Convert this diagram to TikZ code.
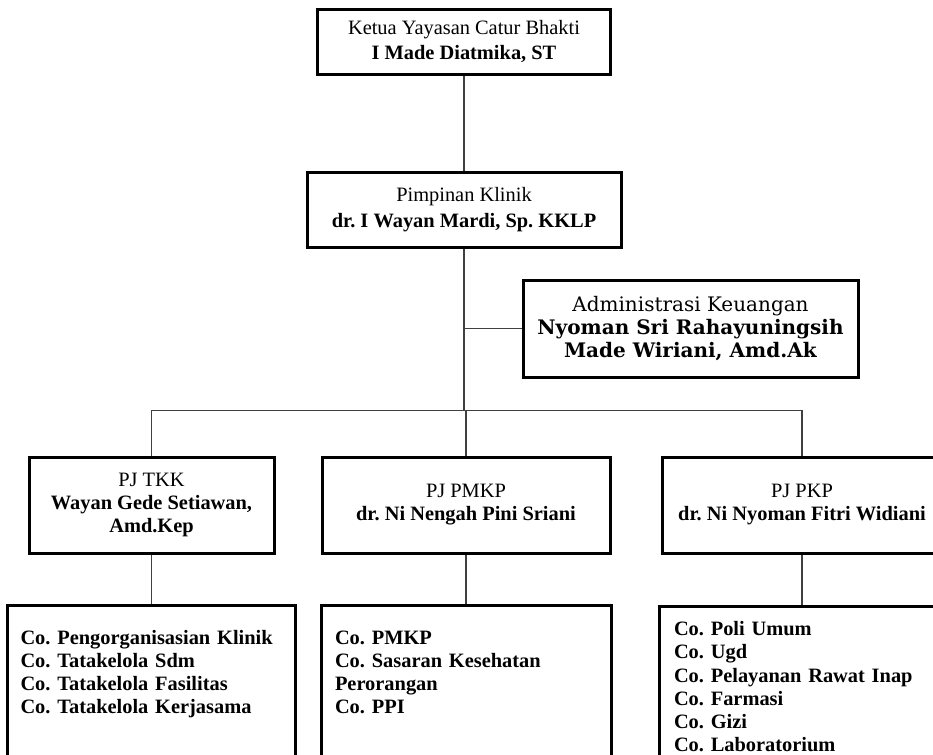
\documentclass[tikz,border=0pt]{standalone}
\usepackage{fontspec}
\setmainfont{Liberation Serif}
\newfontfamily\adminfont{DejaVu Serif}
\usetikzlibrary{positioning}
\frenchspacing
\tikzset{
  link/.style={draw=black!75,line width=0.6pt},
  headbox/.style={draw,line width=1.5pt,align=center,inner sep=2pt,
    font=\fontsize{10.2}{13}\selectfont},
  pjbox/.style={draw,line width=1.5pt,align=center,inner sep=2pt,
    minimum height=48pt,font=\fontsize{10.2}{11.5}\selectfont},
  cobox/.style={draw,line width=1.5pt,align=left,text width=131pt,
    inner xsep=6.5pt,inner ysep=12.8pt,text height=6.8pt,text depth=90pt,
    font=\fontsize{10.2}{11.6}\selectfont\bfseries}
}

\begin{document}
\begin{tikzpicture}[x=0.5pt,y=-0.5pt]
  \useasboundingbox (0,0) rectangle (933,755);
  \clip (0,0) rectangle (933,755);

  \node[headbox,minimum width=146.5pt,minimum height=32.5pt] (ketua) at (464,41.5)
    {Ketua Yayasan Catur Bhakti\\\textbf{I Made Diatmika, ST}};
  \node[headbox,below=47.5pt of ketua,minimum width=157pt,minimum height=37.5pt] (pimpinan)
    {Pimpinan Klinik\\\textbf{dr. I Wayan Mardi, Sp. KKLP}};
  \node[headbox,minimum width=167.5pt,minimum height=48.5pt,
    font=\adminfont\fontsize{10}{11.5}\selectfont] (admin) at (690.5,328.5)
    {Administrasi Keuangan\\\textbf{Nyoman Sri Rahayuningsih}\\\textbf{Made Wiriani, Amd.Ak}};

  \node[pjbox,minimum width=144pt] (pmkp) at (466,505)
    {PJ PMKP\\\textbf{dr. Ni Nengah Pini Sriani}};
  \node[pjbox,left=22.5pt of pmkp,minimum width=122.5pt] (tkk)
    {PJ TKK\\\textbf{Wayan Gede Setiawan,}\\\textbf{Amd.Kep}};
  \node[pjbox,right=24.5pt of pmkp,minimum width=140pt] (pkp)
    {PJ PKP\\\textbf{dr. Ni Nyoman Fitri Widiani}};

  \node[cobox,below=24.5pt of tkk] (cotkk)
    {Co. Pengorganisasian Klinik\\Co. Tatakelola Sdm\\Co. Tatakelola Fasilitas\\Co. Tatakelola Kerjasama};
  \node[cobox,below=24.5pt of pmkp,inner xsep=7pt] (copmkp)
    {Co. PMKP\\Co. Sasaran Kesehatan\\Perorangan\\Co. PPI};
  \node[cobox,below=25pt of pkp,text width=128pt,inner xsep=7.5pt,inner ysep=8pt] (copkp)
    {Co. Poli Umum\\Co. Ugd\\Co. Pelayanan Rawat Inap\\Co. Farmasi\\Co. Gizi\\Co. Laboratorium};

  \coordinate[below=81pt of pimpinan] (bus);
  \draw[link] (ketua) -- (pimpinan);
  \draw[link] (pimpinan) -- (bus);
  \draw[link] (admin.west) -- (admin.west -| bus);
  \draw[link] (tkk) |- (bus) -| (pkp);
  \draw[link] (pmkp) -- (pmkp |- bus);
  \draw[link] (tkk) -- (cotkk);
  \draw[link] (pmkp) -- (copmkp);
  \draw[link] (pkp) -- (copkp);
\end{tikzpicture}
\end{document}
